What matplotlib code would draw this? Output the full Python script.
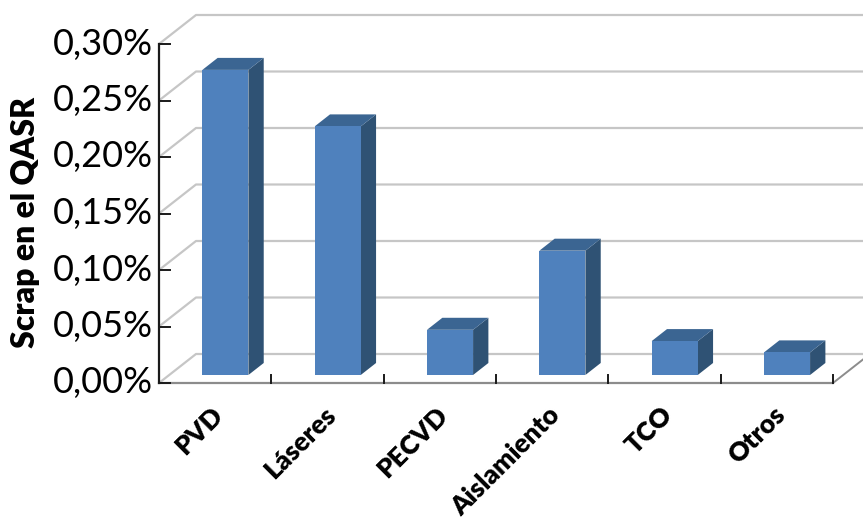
import matplotlib
matplotlib.use("Agg")
import matplotlib.pyplot as plt
from matplotlib.patches import Polygon
from matplotlib.ticker import FuncFormatter

categories = ["PVD", "Láseres", "PECVD", "Aislamiento", "TCO", "Otros"]
scrap_pct = [0.27, 0.22, 0.04, 0.11, 0.03, 0.02]
y_ticks = [0.00, 0.05, 0.10, 0.15, 0.20, 0.25, 0.30]
y_label = "Scrap en el QASR"

FRONT = "#4F81BD"
TOP = "#3B6592"
SIDE = "#2F5274"
GRID = "#C6C6C6"

plt.rcParams["font.family"] = ["Lato", "DejaVu Sans"]

W, H = 863, 524
fig = plt.figure(figsize=(W / 100, H / 100), dpi=100)
ax = fig.add_axes([159 / W, (H - 383) / H, 674 / W, 339 / H])
ax.set_xlim(-0.5, len(categories) - 0.5)
ax.set_ylim(0, 0.30)
ax.set_axis_off()

# depth of the chart box in display pixels (x right, y up)
DEPTH_PX = (37.0, 29.0)
fig.canvas.draw()
inv = ax.transData.inverted()
p0 = inv.transform((0, 0))
p1 = inv.transform(DEPTH_PX)
ddx, ddy = p1[0] - p0[0], p1[1] - p0[1]


def at(x, y, d):
    """Data point (x, y) pushed back by depth fraction d."""
    return (x + d * ddx, y + d * ddy)


x0, x1 = -0.5, len(categories) - 0.5
kw = dict(clip_on=False, transform=ax.transData)

# gridlines on the back wall and along the side wall
for v in y_ticks:
    xs, ys = zip(at(x0, v, 0), at(x0, v, 1), at(x1 + 0.3, v, 1))
    ax.plot(xs, ys, color=GRID, lw=1.6, solid_capstyle="butt", zorder=1, **kw)
# floor right edge
xs, ys = zip(at(x1, 0, 0), at(x1, 0, 1))
ax.plot(xs, ys, color="#8C8C8C", lw=1.4, zorder=1, **kw)

# bars
d_front, d_back = 0.276, 0.69
bw = 0.41
for i, v in enumerate(scrap_pct):
    l, r = i - bw / 2, i + bw / 2
    side = [at(r, 0, d_front), at(r, 0, d_back), at(r, v, d_back), at(r, v, d_front)]
    top = [at(l, v, d_front), at(r, v, d_front), at(r, v, d_back), at(l, v, d_back)]
    front = [at(l, 0, d_front), at(r, 0, d_front), at(r, v, d_front), at(l, v, d_front)]
    ax.add_patch(Polygon(side, closed=True, fc=SIDE, ec="none", zorder=3, **kw))
    ax.add_patch(Polygon(top, closed=True, fc=TOP, ec="none", zorder=3, **kw))
    ax.add_patch(Polygon(front, closed=True, fc=FRONT, ec="none", zorder=4, **kw))

# front axes
ax.plot([x0, x1], [0, 0], color="#8C8C8C", lw=1.6, zorder=5, **kw)
ax.plot([x0, x0], [0, 0.30], color="#1A1A1A", lw=1.6, zorder=5, **kw)
tick_len_y = 11 / 112.33  # in category units
for v in y_ticks:
    ax.plot([x0, x0 + tick_len_y], [v, v], color="#1A1A1A", lw=1.4, zorder=5, **kw)
tick_len_x = 8 / 1130.0
for k in range(len(categories) + 1):
    ax.plot([x0 + k, x0 + k], [0, tick_len_x], color="#1A1A1A", lw=1.4, zorder=5, **kw)

fmt = FuncFormatter(lambda v, _: f"{v:.2f}%".replace(".", ","))
for v in y_ticks:
    ax.annotate(fmt(v), xy=(x0, v), xycoords="data", xytext=(-6, 0),
                textcoords="offset pixels", ha="right", va="center",
                fontsize=26, color="black", annotation_clip=False)

for i, name in enumerate(categories):
    ax.annotate(name, xy=(i, 0), xycoords="data", xytext=(4, -28),
                textcoords="offset pixels", ha="right", va="center",
                rotation=45, rotation_mode="anchor", fontsize=19,
                fontweight="heavy", annotation_clip=False)

fig.text(25 / W, 1 - 222 / H, y_label, rotation=90, ha="center", va="center",
         fontsize=23, fontweight="heavy")

fig.savefig("out.png", dpi=100)
